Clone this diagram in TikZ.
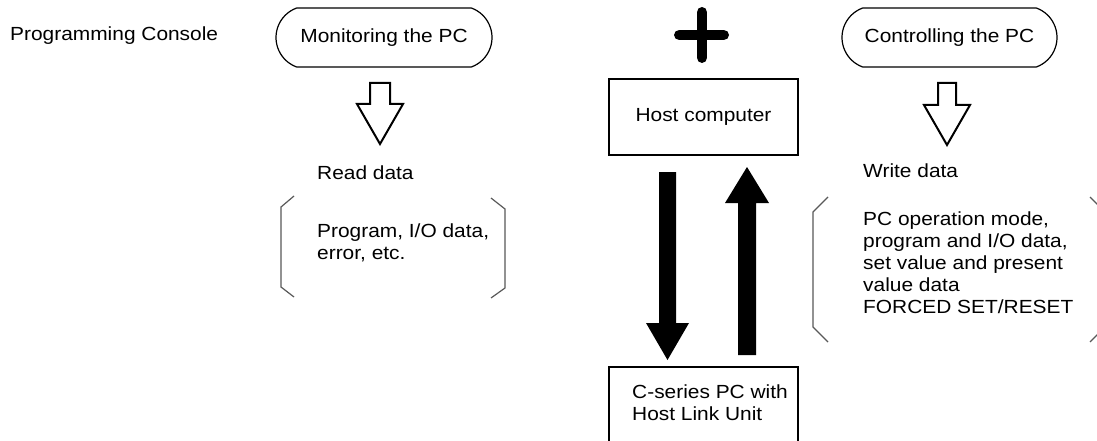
\documentclass[tikz,border=0pt]{standalone}
\usepackage{fontspec}
\setmainfont{Liberation Sans}[FakeStretch=1.1]
\usetikzlibrary{shapes.misc}
\begin{document}
\begin{tikzpicture}[x=1pt,y=-1pt,
  every node/.style={font=\fontsize{19}{22}\selectfont, inner sep=0pt},
  lbl/.style={anchor=base west, align=left},
  capsule/.style={rounded rectangle, rounded rectangle arc length=140, draw, line width=1.2pt, minimum height=59pt},
  box/.style={draw, line width=1.3pt},
  frameline/.style={line width=1.3pt},
  hollow/.style={draw, line width=2pt, fill=white, line join=miter},
  solidarrow/.style={fill=black},
  brk/.style={draw=black!65, line width=1.2pt},
  plus/.style={line width=10.5pt, line cap=round}
  ]
\clip (0,0) rectangle (1097,441);
\fill[white] (0,0) rectangle (1097,441);

% left column
\node[lbl] (pc) at (10,41) {Programming Console};
\node[capsule, minimum width=216pt] (mon) at (384,37.5) {Monitoring the PC};
\draw[hollow] (370,83) -- (390,83) -- (390,104) -- (403,104) -- (380,144) -- (357,104) -- (370,104) -- cycle;
\node[lbl] (rd) at (317,179) {Read data};
% base of a multi-line node = baseline of its last line
\node[lbl] (rdi) at (317,259) {Program, I/O data,\\error, etc.};
\draw[brk] (294,196) -- (281,207) -- (281,287) -- (294,297);
\draw[brk] (491,198) -- (505,209) -- (505,288) -- (491,298);

% middle column
\draw[plus] (702,12.25) -- (702,57.75);
\draw[plus] (679.25,35) -- (723.75,35);
\node[box, minimum width=189pt, minimum height=76pt] (host) at (703.5,117) {Host computer};
\fill[solidarrow] (659,172) -- (676,172) -- (676,323) -- (689,323) -- (667.5,360) -- (646,323) -- (659,323) -- cycle;
\fill[solidarrow] (738,355) -- (756,355) -- (756,203) -- (769,203) -- (747,167) -- (725,203) -- (738,203) -- cycle;
\node[lbl] (plc) at (632,420) {C-series PC with\\Host Link Unit};
\draw[frameline] (609,460) -- (609,367) -- (798,367) -- (798,460);

% right column
\node[capsule, minimum width=215pt] (ctl) at (949.5,37.5) {Controlling the PC};
\draw[hollow] (938,83) -- (956,83) -- (956,105) -- (970,105) -- (947,145) -- (924,105) -- (938,105) -- cycle;
\node[lbl] (wd) at (863,177) {Write data};
\node[lbl] (wdi) at (863,313) {PC operation mode,\\program and I/O data,\\set value and present\\value data\\FORCED SET/RESET};
\draw[brk] (828,197) -- (813,212) -- (813,327) -- (828,342);
\draw[brk] (1090,197) -- (1104,211) -- (1104,328) -- (1090,342);
\end{tikzpicture}
\end{document}
